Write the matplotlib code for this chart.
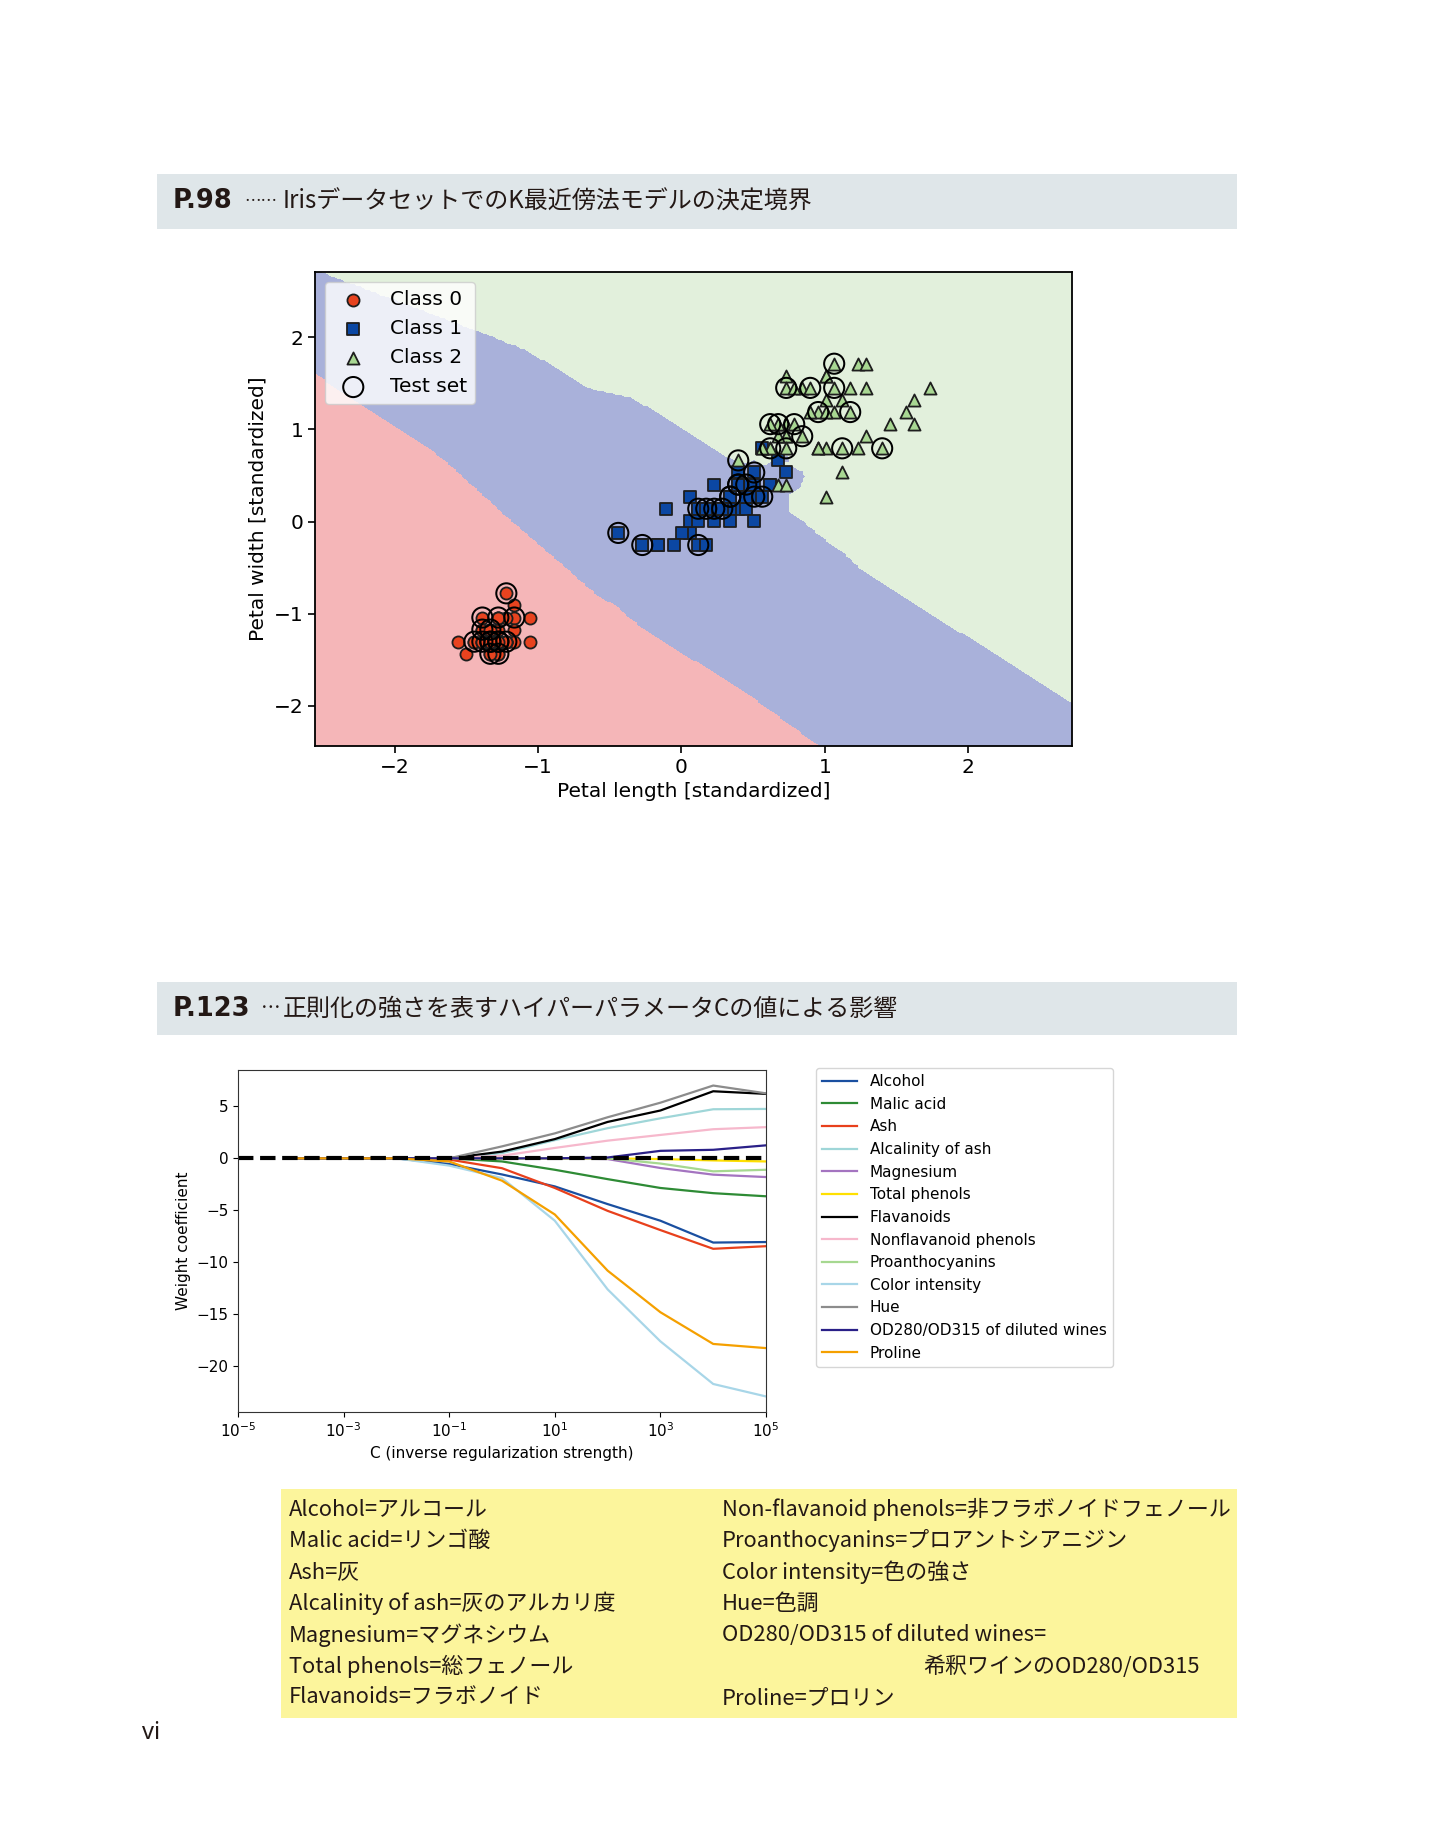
import numpy as np
import matplotlib
matplotlib.use("Agg")
import matplotlib.pyplot as plt
from matplotlib.patches import Rectangle

plt.rcParams['font.family'] = ['DejaVu Sans']
JP = ['Noto Sans CJK JP', 'DejaVu Sans']

W_PX, H_PX = 1433, 1827

# ---------------- P.98 : Iris petal measurements (cm) ----------------
PETAL_LENGTH = [
    1.4, 1.4, 1.3, 1.5, 1.4, 1.7, 1.4, 1.5, 1.4, 1.5, 1.5, 1.6, 1.4, 1.1, 1.2, 1.5, 1.3,
    1.4, 1.7, 1.5, 1.7, 1.5, 1.0, 1.7, 1.9, 1.6, 1.6, 1.5, 1.4, 1.6, 1.6, 1.5, 1.5, 1.4,
    1.5, 1.2, 1.3, 1.4, 1.3, 1.5, 1.3, 1.3, 1.3, 1.6, 1.9, 1.4, 1.6, 1.4, 1.5, 1.4,
    4.7, 4.5, 4.9, 4.0, 4.6, 4.5, 4.7, 3.3, 4.6, 3.9, 3.5, 4.2, 4.0, 4.7, 3.6, 4.4, 4.5,
    4.1, 4.5, 3.9, 4.8, 4.0, 4.9, 4.7, 4.3, 4.4, 4.8, 5.0, 4.5, 3.5, 3.8, 3.7, 3.9, 5.1,
    4.5, 4.5, 4.7, 4.4, 4.1, 4.0, 4.4, 4.6, 4.0, 3.3, 4.2, 4.2, 4.2, 4.3, 3.0, 4.1,
    6.0, 5.1, 5.9, 5.6, 5.8, 6.6, 4.5, 6.3, 5.8, 6.1, 5.1, 5.3, 5.5, 5.0, 5.1, 5.3, 5.5,
    6.7, 6.9, 5.0, 5.7, 4.9, 6.7, 4.9, 5.7, 6.0, 4.8, 4.9, 5.6, 5.8, 6.1, 6.4, 5.6, 5.1,
    5.6, 6.1, 5.6, 5.5, 4.8, 5.4, 5.6, 5.1, 5.1, 5.9, 5.7, 5.2, 5.0, 5.2, 5.4, 5.1,
]
PETAL_WIDTH = [
    0.2, 0.2, 0.2, 0.2, 0.2, 0.4, 0.3, 0.2, 0.2, 0.1, 0.2, 0.2, 0.1, 0.1, 0.2, 0.4, 0.4,
    0.3, 0.3, 0.3, 0.2, 0.4, 0.2, 0.5, 0.2, 0.2, 0.4, 0.2, 0.2, 0.2, 0.2, 0.4, 0.1, 0.2,
    0.2, 0.2, 0.2, 0.1, 0.2, 0.2, 0.3, 0.3, 0.2, 0.6, 0.4, 0.3, 0.2, 0.2, 0.2, 0.2,
    1.4, 1.5, 1.5, 1.3, 1.5, 1.3, 1.6, 1.0, 1.3, 1.4, 1.0, 1.5, 1.0, 1.4, 1.3, 1.4, 1.5,
    1.0, 1.5, 1.1, 1.8, 1.3, 1.5, 1.2, 1.3, 1.4, 1.4, 1.7, 1.5, 1.0, 1.1, 1.0, 1.2, 1.6,
    1.5, 1.6, 1.5, 1.3, 1.3, 1.3, 1.2, 1.4, 1.2, 1.0, 1.3, 1.2, 1.3, 1.3, 1.1, 1.3,
    2.5, 1.9, 2.1, 1.8, 2.2, 2.1, 1.7, 1.8, 1.8, 2.5, 2.0, 1.9, 2.1, 2.0, 2.4, 2.3, 1.8,
    2.2, 2.3, 1.5, 2.3, 2.0, 2.0, 1.8, 2.1, 1.8, 1.8, 1.8, 2.1, 1.6, 1.9, 2.0, 2.2, 1.5,
    1.4, 2.3, 2.4, 1.8, 1.8, 2.1, 2.4, 2.3, 1.9, 2.3, 2.5, 2.3, 1.9, 2.0, 2.3, 1.8,
]
IRIS_CLASS = [0] * 50 + [1] * 50 + [2] * 50

# circled points (test set)
TEST_LENGTH = [1.6, 1.3, 1.5, 1.7, 1.4, 1.5, 1.3, 1.4, 1.4, 1.5, 1.6, 1.4, 1.3, 1.5, 1.2,
               3.0, 3.3, 4.0, 4.0, 4.2, 4.3, 4.4, 4.5, 4.6, 4.7, 4.8, 4.7, 4.1, 4.5, 4.4,
               5.7, 5.1, 5.4, 5.7, 5.5, 5.9, 4.9, 5.0, 5.2, 5.3, 4.9, 5.1, 5.8, 6.3, 4.5]
TEST_WIDTH = [0.6, 0.4, 0.4, 0.4, 0.1, 0.1, 0.2, 0.2, 0.2, 0.2, 0.2, 0.3, 0.3, 0.2, 0.2,
              1.1, 1.0, 1.0, 1.3, 1.3, 1.3, 1.4, 1.5, 1.5, 1.4, 1.4, 1.6, 1.3, 1.5, 1.4,
              2.5, 2.3, 2.3, 2.3, 2.1, 2.1, 2.0, 2.0, 2.0, 1.9, 1.8, 1.8, 1.8, 1.8, 1.7]
TEST_CLASS = [0] * 15 + [1] * 15 + [2] * 15

# scaler values matching the standardized axes
LENGTH_MEAN, LENGTH_STD = 3.79, 1.793
WIDTH_MEAN, WIDTH_STD = 1.194, 0.763

CLASS_COLORS = ['#e8431f', '#0b47a3', '#a8d792']
CLASS_MARKERS = ['o', 's', '^']
REGION_COLORS = ['#f5b6b8', '#a9b1da', '#e2f0dc']

# ---------------- P.123 : L1 weight paths on wine data ----------------
C_EXPONENTS = [-4, -3, -2, -1, 0, 1, 2, 3, 4, 5]
WINE_FEATURES = ['Alcohol', 'Malic acid', 'Ash', 'Alcalinity of ash', 'Magnesium',
                 'Total phenols', 'Flavanoids', 'Nonflavanoid phenols',
                 'Proanthocyanins', 'Color intensity', 'Hue',
                 'OD280/OD315 of diluted wines', 'Proline']
W_ALCOHOL = [0, 0, 0, -0.55, -1.55, -2.7, -4.4, -6.0, -8.1, -8.05]
W_MALIC = [0, 0, 0, 0, -0.3, -1.1, -2.0, -2.85, -3.35, -3.65]
W_ASH = [0, 0, 0, -0.12, -0.95, -2.85, -5.05, -6.9, -8.7, -8.45]
W_ALCALINITY = [0, 0, 0, 0, 0.5, 1.75, 2.9, 3.85, 4.72, 4.75]
W_MAGNESIUM = [0, 0, 0, 0, 0, 0, -0.07, -0.93, -1.57, -1.8]
W_PHENOLS = [0, 0, 0, 0, 0, 0, 0, -0.07, -0.2, -0.3]
W_FLAVANOIDS = [0, 0, 0, 0, 0.65, 1.85, 3.5, 4.6, 6.45, 6.2]
W_NONFLAV = [0, 0, 0, 0, 0.25, 1.0, 1.7, 2.25, 2.8, 3.0]
W_PROANTHO = [0, 0, 0, 0, 0, 0, 0, -0.5, -1.25, -1.1]
W_COLOR = [0, 0, 0, -0.7, -1.9, -6.0, -12.6, -17.6, -21.7, -22.9]
W_HUE = [0, 0, 0, 0, 1.15, 2.4, 3.95, 5.35, 7.0, 6.25]
W_OD280 = [0, 0, 0, 0, 0, 0, 0.08, 0.72, 0.82, 1.25]
W_PROLINE = [0, 0, 0, -0.3, -2.15, -5.4, -10.8, -14.8, -17.85, -18.25]
WINE_COLORS = ['#1a4fa0', '#2e8b35', '#e8401c', '#9fd6d8', '#a474c0', '#ffe000',
               'black', '#f6b8cc', '#a6d890', '#a8d6e8', '#8c8c8c', '#2a2088', '#f5a000']

GLOSSARY_LEFT = ['Alcohol=アルコール', 'Malic acid=リンゴ酸', 'Ash=灰',
                 'Alcalinity of ash=灰のアルカリ度', 'Magnesium=マグネシウム',
                 'Total phenols=総フェノール', 'Flavanoids=フラボノイド']
GLOSSARY_RIGHT = ['Non-flavanoid phenols=非フラボノイドフェノール',
                  'Proanthocyanins=プロアントシアニジン', 'Color intensity=色の強さ',
                  'Hue=色調', 'OD280/OD315 of diluted wines=', '', 'Proline=プロリン']
GLOSSARY_WRAP = '希釈ワインのOD280/OD315'

INK = '#231815'


def fx(px):
    return px / W_PX


def fy(py):
    return 1 - py / H_PX


def knn_labels(train_xy, train_cls, query_xy, k=5):
    out = np.empty(len(query_xy), dtype=int)
    step = 4000
    for s in range(0, len(query_xy), step):
        q = query_xy[s:s + step]
        d2 = ((q[:, None, :] - train_xy[None, :, :]) ** 2).sum(axis=2)
        nearest = np.argsort(d2, axis=1, kind="stable")[:, :k]
        votes = train_cls[nearest]
        counts = np.stack([(votes == c).sum(axis=1) for c in range(3)], axis=1)
        out[s:s + step] = counts.argmax(axis=1)
    return out


def header(y_top, y_bot, bold, dots, dots_x, dots_size, title):
    fig.patches.append(Rectangle((fx(157), fy(y_bot)), fx(1237) - fx(157),
                                 fy(y_top) - fy(y_bot), transform=fig.transFigure,
                                 facecolor='#dfe6e9', edgecolor='none', zorder=0))
    yc = fy((y_top + y_bot) / 2)
    fig.text(fx(173), yc, bold, family=['DejaVu Sans'], fontsize=18.5,
             fontweight='bold', va='center', ha='left', color=INK)
    fig.text(fx(dots_x), yc, dots, family=JP, fontsize=dots_size,
             va='center', ha='left', color=INK)
    fig.text(fx(283), yc, title, family=JP, fontsize=17.3, va='center', ha='left',
             color=INK)


fig = plt.figure(figsize=(W_PX / 100, H_PX / 100), dpi=100)

header(174, 229, 'P.98', '……', 244, 12, 'Irisデータセットでの' + 'K最近傍法モデルの決定境界')
header(982, 1035, 'P.123', '…', 261, 14, '正則化の強さを表すハイパーパラメータCの値による影響')

# ---------------- top chart ----------------
L = np.array(PETAL_LENGTH)
Wd = np.array(PETAL_WIDTH)
cls = np.array(IRIS_CLASS)
X = np.column_stack([(L - LENGTH_MEAN) / LENGTH_STD, (Wd - WIDTH_MEAN) / WIDTH_STD])
X_test = np.column_stack([(np.array(TEST_LENGTH) - LENGTH_MEAN) / LENGTH_STD,
                          (np.array(TEST_WIDTH) - WIDTH_MEAN) / WIDTH_STD])

remaining = list(zip(PETAL_LENGTH, PETAL_WIDTH, IRIS_CLASS))
for t in zip(TEST_LENGTH, TEST_WIDTH, TEST_CLASS):
    remaining.remove(t)
tr = np.array(remaining)
X_train = np.column_stack([(tr[:, 0] - LENGTH_MEAN) / LENGTH_STD,
                           (tr[:, 1] - WIDTH_MEAN) / WIDTH_STD])
y_train = tr[:, 2].astype(int)

res = 0.02
xx, yy = np.meshgrid(np.arange(X[:, 0].min() - 1, X[:, 0].max() + 1, res),
                     np.arange(X[:, 1].min() - 1, X[:, 1].max() + 1, res))
Z = knn_labels(X_train, y_train, np.c_[xx.ravel(), yy.ravel()]).reshape(xx.shape)

ax1 = fig.add_axes([fx(315), fy(746), fx(1072) - fx(315), fy(272) - fy(746)])
ax1.contourf(xx, yy, Z, levels=[-0.5, 0.5, 1.5, 2.5], colors=REGION_COLORS)
for c in range(3):
    m = cls == c
    ax1.scatter(X[m, 0], X[m, 1], s=76, c=CLASS_COLORS[c], marker=CLASS_MARKERS[c],
                edgecolors='#1e1e1e', linewidths=1.3, label=f'Class {c}', zorder=3)
ax1.scatter(X_test[:, 0], X_test[:, 1], s=210, facecolors='none', edgecolors='black',
            linewidths=1.45, marker='o', label='Test set', zorder=4)
ax1.set_xlim(xx.min(), xx.max())
ax1.set_ylim(yy.min(), yy.max())
ax1.set_xticks([-2, -1, 0, 1, 2])
ax1.set_yticks([-2, -1, 0, 1, 2])
ax1.tick_params(labelsize=14.5, width=1.2, length=5)
ax1.set_xlabel('Petal length [standardized]', fontsize=14.5)
ax1.set_ylabel('Petal width [standardized]', fontsize=14.5)
for sp in ax1.spines.values():
    sp.set_linewidth(1.3)
ax1.legend(loc='upper left', fontsize=14.5, labelspacing=0.5, handletextpad=0.8,
           borderpad=0.4, framealpha=0.8)

# ---------------- bottom chart ----------------
params = [10.0 ** e for e in C_EXPONENTS]
weights = [W_ALCOHOL, W_MALIC, W_ASH, W_ALCALINITY, W_MAGNESIUM, W_PHENOLS,
           W_FLAVANOIDS, W_NONFLAV, W_PROANTHO, W_COLOR, W_HUE, W_OD280, W_PROLINE]

ax2 = fig.add_axes([fx(238), fy(1412), fx(766) - fx(238), fy(1070) - fy(1412)])
for name, wv, col in zip(WINE_FEATURES, weights, WINE_COLORS):
    ax2.plot(params, wv, label=name, color=col, linewidth=1.6)
ax2.axhline(0, color='black', linestyle='--', linewidth=3)
ax2.set_xscale('log')
ax2.set_xlim(1e-5, 1e5)
ax2.set_xticks([1e-5, 1e-3, 1e-1, 1e1, 1e3, 1e5])
ax2.minorticks_off()
ax2.tick_params(labelsize=11)
ax2.set_xlabel('C (inverse regularization strength)', fontsize=11)
ax2.set_ylabel('Weight coefficient', fontsize=11)
for sp in ax2.spines.values():
    sp.set_color('#333333')
leg = ax2.legend(loc='upper left', bbox_to_anchor=(1.095, 1.006), borderaxespad=0,
                 fontsize=11, labelspacing=0.5, handlelength=2.3, fancybox=True)
leg.get_frame().set_edgecolor('#cccccc')

# ---------------- glossary box ----------------
fig.patches.append(Rectangle((fx(281), fy(1718)), fx(1237) - fx(281), fy(1489) - fy(1718),
                             transform=fig.transFigure, facecolor='#fcf59c',
                             edgecolor='none', zorder=0))
for i, (lt, rt) in enumerate(zip(GLOSSARY_LEFT, GLOSSARY_RIGHT)):
    yy_px = 1509 + i * 31.5
    fig.text(fx(289), fy(yy_px), lt, family=JP, fontsize=15.8, va='center', color=INK)
    if rt:
        fig.text(fx(722), fy(yy_px), rt, family=JP, fontsize=15.8, va='center',
                 color=INK)
fig.text(fx(1200), fy(1509 + 5 * 31.5), GLOSSARY_WRAP, family=JP, fontsize=15.8,
         va='center', ha='right', color=INK)

fig.text(fx(142), fy(1733), 'vi', family=['Noto Sans', 'DejaVu Sans'], fontsize=17,
         va='center', ha='left', color=INK)

fig.savefig('out.png', dpi=100)
